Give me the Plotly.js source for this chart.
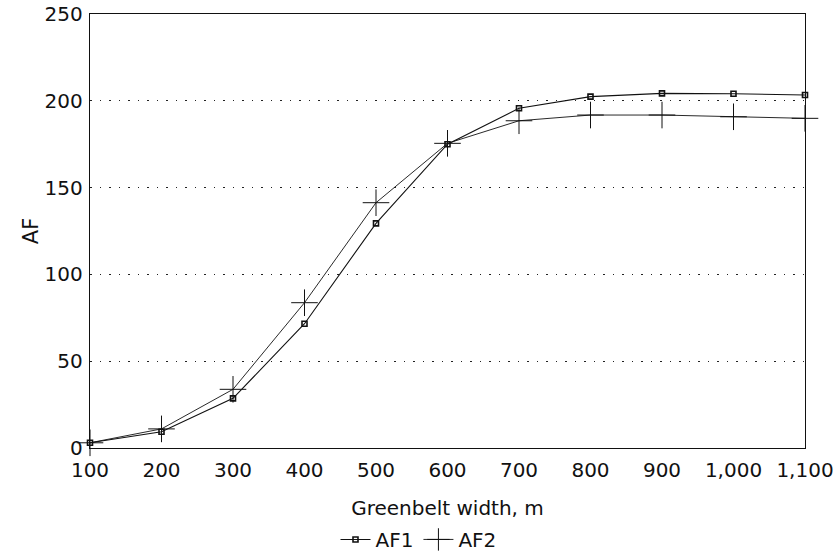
<!DOCTYPE html>
<html>
<head>
<meta charset="utf-8">
<script src="https://cdn.plot.ly/plotly-3.0.1.min.js"></script>
<style>html,body{margin:0;padding:0;background:#fff;}#chart{width:837px;height:559px;}</style>
</head>
<body>
<div id="chart"></div>
<script>
const widths = [100, 200, 300, 400, 500, 600, 700, 800, 900, 1000, 1100];
const af1 = [3, 9.4, 28.6, 71.6, 129.4, 175, 195.7, 202.4, 204.3, 204.1, 203.3];
const af2 = [3, 11, 33.8, 83.7, 141.3, 175.5, 188.5, 191.8, 191.8, 190.8, 189.9];
const seriesNames = ["AF1", "AF2"];
const xTickVals = widths;
const xTickText = ["100","200","300","400","500","600","700","800","900","1,000","1,100"];
const yTickVals = [0, 50, 100, 150, 200, 250];

const font = {family: "DejaVu Sans, Liberation Sans, Arial, sans-serif", color: "#111"};

const traces = [
  {x: widths, y: af1, name: seriesNames[0], mode: "lines+markers", cliponaxis: false,
   line: {color: "#111", width: 1.1},
   marker: {symbol: "square-open", size: 5, color: "#111", line: {width: 1.6, color: "#111"}}},
  {x: widths, y: af2, name: seriesNames[1], mode: "lines+markers", cliponaxis: false,
   line: {color: "#111", width: 0.9},
   marker: {symbol: "cross-thin-open", size: 19, color: "#111", line: {width: 1, color: "#111"}}}
];

const layout = {
  width: 837, height: 559,
  margin: {l: 90, r: 32, t: 14, b: 111},
  paper_bgcolor: "#fff", plot_bgcolor: "#fff",
  font: Object.assign({size: 20}, font),
  showlegend: true,
  legend: {orientation: "h", x: 0.5, xanchor: "center", xref: "container",
           y: 0.035, yanchor: "middle", yref: "container",
           font: Object.assign({size: 20}, font), itemwidth: 30, tracegroupgap: 0},
  xaxis: {
    range: [100, 1100], tickvals: xTickVals, ticktext: xTickText,
    showgrid: false, zeroline: false, showline: true, mirror: true,
    linecolor: "#111", linewidth: 1.2, ticks: "", ticklen: 0, ticklabelstandoff: 4,
    tickfont: Object.assign({size: 20}, font),
    title: {text: "Greenbelt width, m", font: Object.assign({size: 20}, font)}
  },
  yaxis: {
    range: [0, 250], tickvals: yTickVals,
    showgrid: true, gridcolor: "#222", griddash: "1.5px,8px", gridwidth: 1.2,
    zeroline: false, showline: true, mirror: true,
    linecolor: "#111", linewidth: 1.2, ticks: "", ticklabelstandoff: 2,
    tickfont: Object.assign({size: 20}, font),
    title: {text: "AF", font: Object.assign({size: 21}, font)}
  }
};

Plotly.newPlot("chart", traces, layout, {displayModeBar: false, staticPlot: true});
</script>
</body>
</html>
